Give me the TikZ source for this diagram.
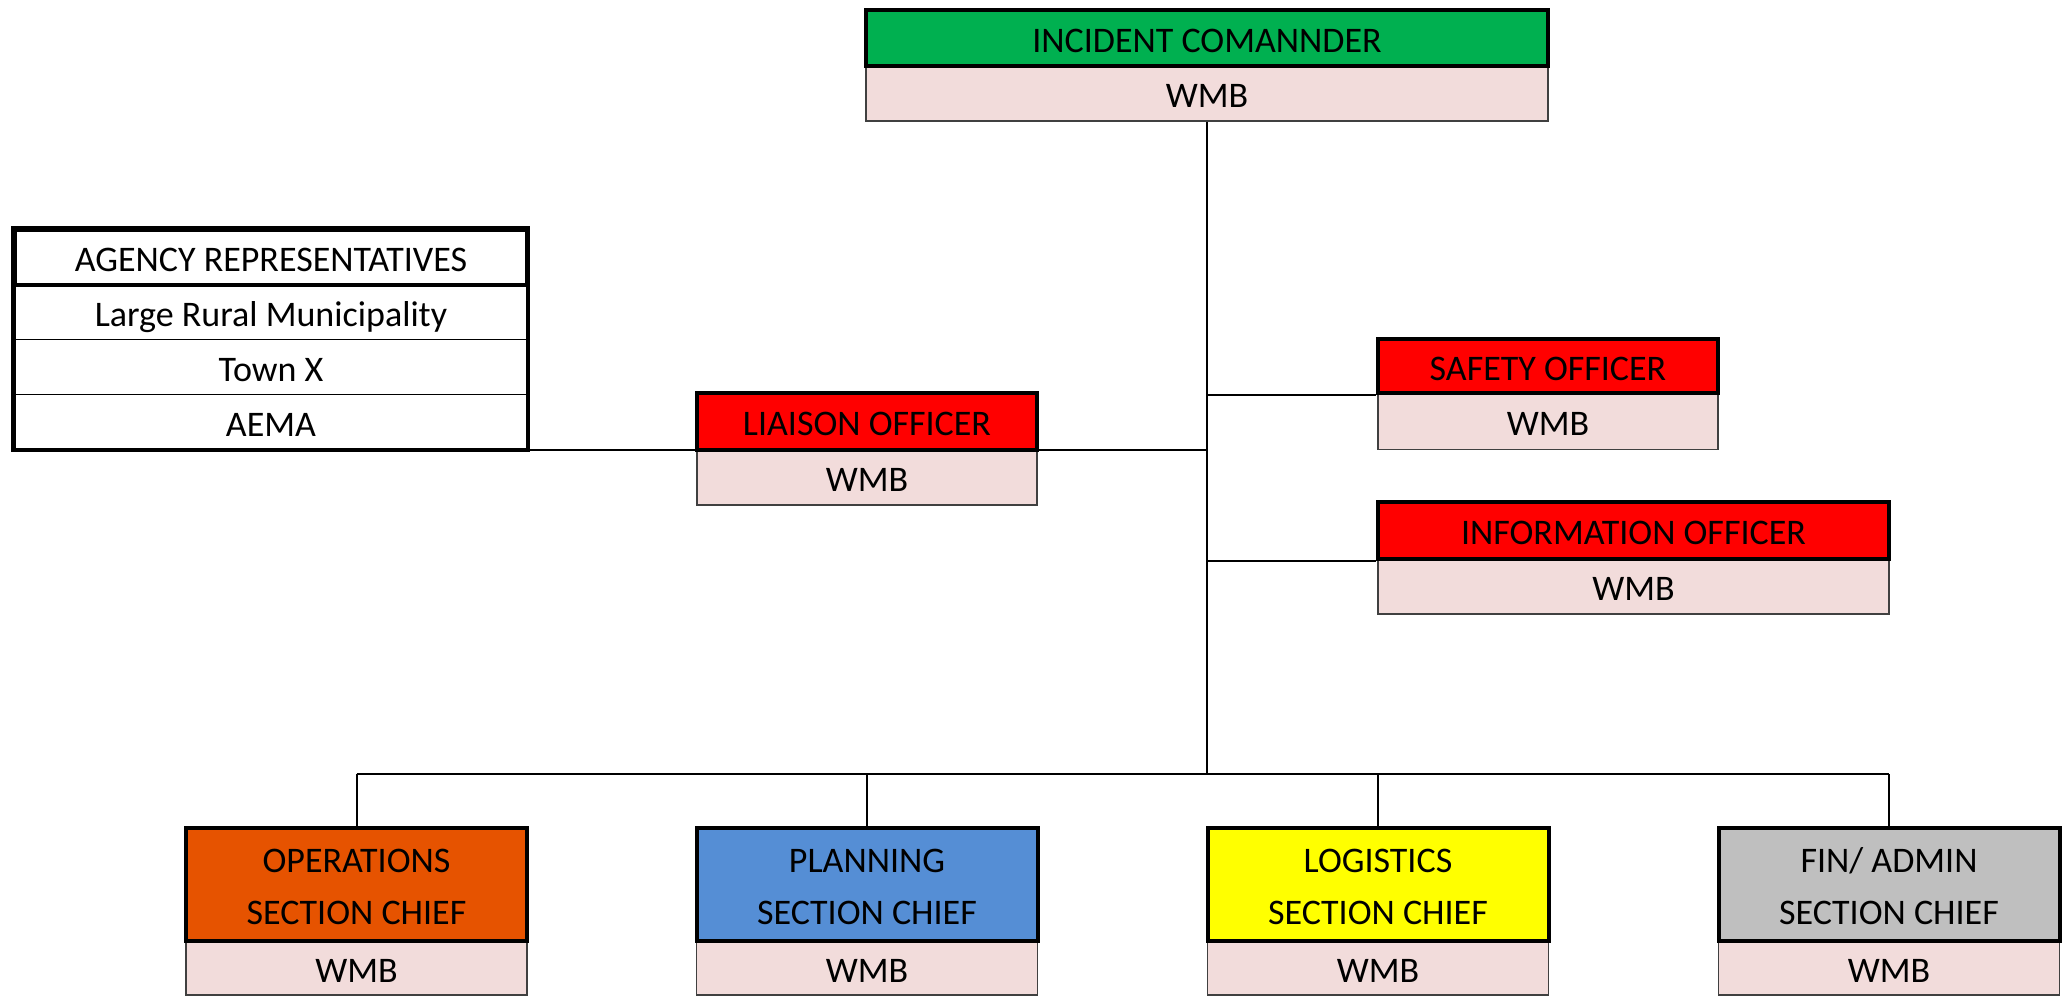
\documentclass[tikz,border=0pt]{standalone}
\usepackage{fontspec}
\setmainfont{Carlito}
\definecolor{icgreen}{HTML}{00B050}
\definecolor{offred}{HTML}{FF0000}
\definecolor{opsorange}{HTML}{E65300}
\definecolor{planblue}{HTML}{558ED5}
\definecolor{logyellow}{HTML}{FFFF00}
\definecolor{fingray}{HTML}{BFBFBF}
\definecolor{subpink}{HTML}{F2DCDB}
\tikzset{
  box/.style={rectangle, inner sep=0pt, font=\fontsize{18}{26}\selectfont, text=black, align=center, text height=14pt, text depth=0pt},
  head/.style={box, draw=black, line width=2pt},
  sechead/.style={head, minimum width=170.5pt, minimum height=56.5pt, text height=40pt, text depth=0pt},
  sub/.style={box, draw=black!75, line width=0.7pt, fill=subpink},
  row/.style={box, draw=black, line width=0.7pt, minimum width=256pt, minimum height=27.5pt},
  conn/.style={draw=black, line width=1pt}
}
\begin{document}
\begin{tikzpicture}[x=0.5pt,y=-0.5pt]
\useasboundingbox (0,0) rectangle (2067,996);
% Incident commander
\node[sub, minimum width=341pt, minimum height=27.5pt] (icw) at (1207,93.5) {WMB};
\node[head, fill=icgreen, minimum width=341pt, minimum height=27.75pt] (ich) at (1207,38) {INCIDENT COMANNDER};
% Agency representatives
\node[row] (ag2) at (271,312) {Large Rural Municipality};
\node[row] (ag3) at (271,367) {Town X};
\node[row] (ag4) at (271,422) {AEMA};
\node[row, line width=2pt] (ag1) at (271,257) {AGENCY REPRESENTATIVES};
\draw[line width=2pt] (ag1.north west) rectangle (ag4.south east);
% Liaison
\node[sub, minimum width=170pt, minimum height=27.75pt] (liaw) at (867,477.25) {WMB};
\node[head, fill=offred, minimum width=170pt, minimum height=28.25pt] (liah) at (867,421.25) {LIAISON OFFICER};
% Safety
\node[sub, minimum width=170pt, minimum height=28.25pt] (safw) at (1548,421.25) {WMB};
\node[head, fill=offred, minimum width=170pt, minimum height=27pt] (safh) at (1548,366) {SAFETY OFFICER};
% Information
\node[sub, minimum width=255.5pt, minimum height=27.5pt] (infw) at (1633.5,586.5) {WMB};
\node[head, fill=offred, minimum width=255.5pt, minimum height=28.5pt] (infh) at (1633.5,530.5) {INFORMATION OFFICER};
% Sections
\node[sub, minimum width=170.5pt, minimum height=27pt] (opsw) at (356.5,968) {WMB};
\node[sechead, fill=opsorange] (opsh) at (356.5,884.5) {OPERATIONS\\SECTION CHIEF};
\node[sub, minimum width=170.5pt, minimum height=27pt] (planw) at (867,968) {WMB};
\node[sechead, fill=planblue] (planh) at (867,884.5) {PLANNING\\SECTION CHIEF};
\node[sub, minimum width=170.5pt, minimum height=27pt] (logw) at (1378,968) {WMB};
\node[sechead, fill=logyellow] (logh) at (1378,884.5) {LOGISTICS\\SECTION CHIEF};
\node[sub, minimum width=170.5pt, minimum height=27pt] (finw) at (1889,968) {WMB};
\node[sechead, fill=fingray] (finh) at (1889,884.5) {FIN/ ADMIN\\SECTION CHIEF};
% Connectors
\coordinate (bus) at (1207,774);
\draw[conn] (icw.south) -- (bus);
\draw[conn] (bus -| opsh.north) -- (bus -| finh.north);
\draw[conn] (bus -| opsh.north) -- (opsh.north);
\draw[conn] (bus -| planh.north) -- (planh.north);
\draw[conn] (bus -| logh.north) -- (logh.north);
\draw[conn] (bus -| finh.north) -- (finh.north);
\draw[conn] (icw.south |- safh.south) -- (safh.south west);
\draw[conn] (icw.south |- infh.south) -- (infh.south west);
\draw[conn] (ag4.south east) -- (icw.south |- ag4.south east);
\end{tikzpicture}
\end{document}
